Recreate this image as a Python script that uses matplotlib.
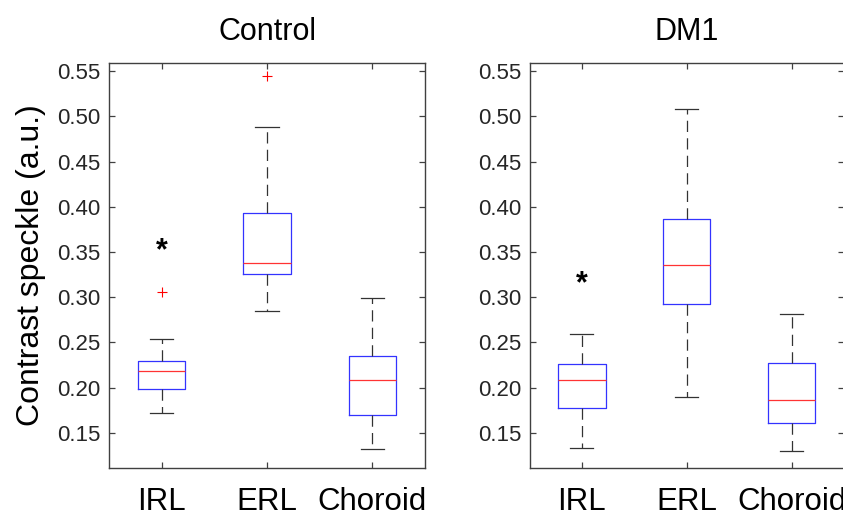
import matplotlib.pyplot as plt

plt.rcParams['font.family'] = ['Liberation Sans', 'DejaVu Sans']

groups = ['Control', 'DM1']
layers = ['IRL', 'ERL', 'Choroid']

# whisker low, q1, median, q3, whisker high
ctrl_wlo = [0.172, 0.285, 0.132]
ctrl_q1 = [0.199, 0.326, 0.170]
ctrl_med = [0.219, 0.338, 0.208]
ctrl_q3 = [0.230, 0.393, 0.235]
ctrl_whi = [0.254, 0.488, 0.299]
ctrl_fliers = [[0.306], [0.544], []]

dm1_wlo = [0.133, 0.190, 0.130]
dm1_q1 = [0.178, 0.292, 0.161]
dm1_med = [0.209, 0.336, 0.186]
dm1_q3 = [0.226, 0.386, 0.227]
dm1_whi = [0.259, 0.508, 0.281]
dm1_fliers = [[], [], []]

# significance stars (x = layer position, y = value)
ctrl_star = (1, 0.351)
dm1_star = (1, 0.314)

data = [
    (ctrl_wlo, ctrl_q1, ctrl_med, ctrl_q3, ctrl_whi, ctrl_fliers, ctrl_star),
    (dm1_wlo, dm1_q1, dm1_med, dm1_q3, dm1_whi, dm1_fliers, dm1_star),
]

fig = plt.figure(figsize=(8.43, 5.13), dpi=100)
W, H = 843, 513
axes_px = [(109, 425), (529.5, 844)]
top, bottom = 62.7, 468

axcol = '#404040'
txtcol = '#262626'

for k, (lo, q1, med, q3, hi, fl, star) in enumerate(data):
    x0, x1 = axes_px[k]
    ax = fig.add_axes([x0 / W, 1 - bottom / H, (x1 - x0) / W, (bottom - top) / H])
    stats = []
    for i in range(3):
        stats.append(dict(whislo=lo[i], q1=q1[i], med=med[i], q3=q3[i],
                          whishi=hi[i], fliers=fl[i], label=layers[i]))
    ax.bxp(stats, positions=[1, 2, 3], widths=0.45,
           boxprops=dict(color='#3333ff', linewidth=0.9),
           medianprops=dict(color='#ff3333', linewidth=0.9),
           whiskerprops=dict(color='#333333', linewidth=0.9, linestyle=(0, (9, 5))),
           capprops=dict(color='#333333', linewidth=0.9),
           capwidths=0.22,
           flierprops=dict(marker='+', markeredgecolor='red', markersize=7,
                           markeredgewidth=0.8, linestyle='none'))
    ax.text(star[0], star[1], '*', ha='center', va='center', fontsize=22,
            fontweight='bold', color='black')
    ax.set_xlim(0.5, 3.5)
    ax.set_ylim(0.1113, 0.5592)
    ax.set_yticks([0.15, 0.20, 0.25, 0.30, 0.35, 0.40, 0.45, 0.50, 0.55])
    ax.set_yticklabels(['%.2f' % v for v in ax.get_yticks()])
    ax.set_xticks([1, 2, 3])
    ax.set_xticklabels(layers, fontsize=22.5, color='black')
    ax.tick_params(axis='y', labelsize=16, labelcolor=txtcol, pad=6)
    ax.tick_params(axis='x', pad=14)
    ax.tick_params(direction='in', length=4, width=0.9, color=axcol,
                   top=True, right=True)
    for s in ax.spines.values():
        s.set_color(axcol)
        s.set_linewidth(1.0)
    ax.set_title(groups[k], fontsize=22, pad=16)
    if k == 0:
        ax.set_ylabel('Contrast speckle (a.u.)', fontsize=23, labelpad=8)

fig.savefig('out.png', dpi=100)
